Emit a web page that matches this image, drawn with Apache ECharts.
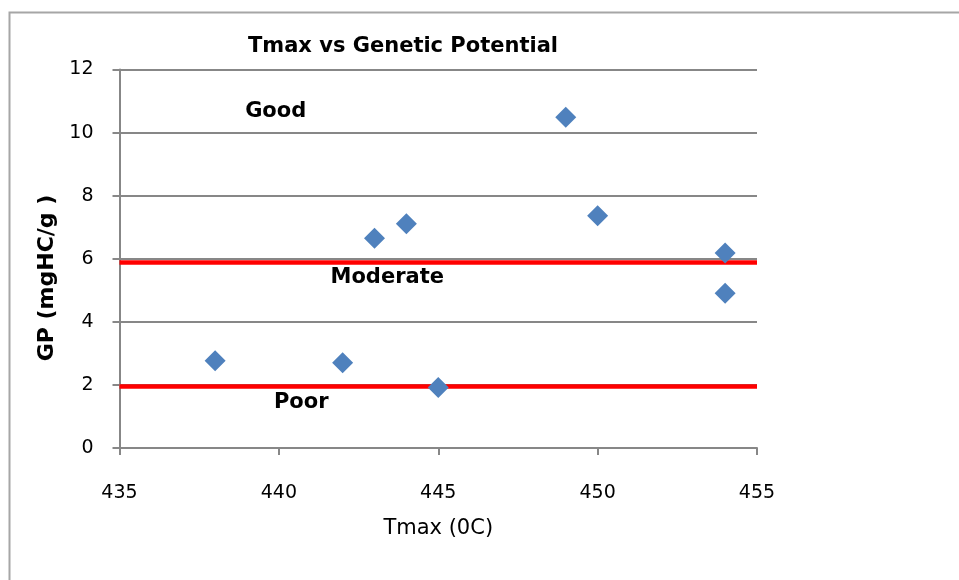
<!DOCTYPE html>
<html>
<head>
<meta charset="utf-8">
<script src="https://cdn.jsdelivr.net/npm/echarts@6/dist/echarts.min.js"></script>
<style>
html,body{margin:0;padding:0;background:#fff;}
#chart{width:959px;height:580px;}
</style>
</head>
<body>
<div id="chart"></div>
<script>
var tmaxValues = [438, 442, 443, 444, 445, 449, 450, 454, 454];
var gpValues = [2.77, 2.70, 6.65, 7.11, 1.92, 10.49, 7.36, 6.18, 4.91];
var thresholdValues = [5.9, 1.95];
var zoneNames = ['Good', 'Moderate', 'Poor'];
var zoneX = [439.9, 443.4, 440.7];
var zoneY = [10.68, 5.39, 1.44];
var xTicks = [435, 440, 445, 450, 455];
var yTicks = [0, 2, 4, 6, 8, 10, 12];

var FONT = '"DejaVu Sans", "Liberation Sans", Arial, sans-serif';
var chart = echarts.init(document.getElementById('chart'), null, {renderer: 'canvas'});

var points = tmaxValues.map(function (x, i) { return [x, gpValues[i]]; });
var zoneData = zoneNames.map(function (n, i) { return {name: n, value: [zoneX[i], zoneY[i]]}; });

var option = {
  backgroundColor: '#fff',
  animation: false,
  title: {
    text: 'Tmax vs Genetic Potential',
    left: 398, top: 31, textAlign: 'center',
    textStyle: {fontFamily: FONT, fontSize: 21, fontWeight: 'bold', color: '#000'}
  },
  graphic: [
    {type: 'rect', left: 7, top: 10, shape: {width: 1000, height: 600},
     style: {fill: 'none', stroke: '#a6a6a6', lineWidth: 2}, silent: true, z: -1},
    {type: 'text', x: 47, y: 278, rotation: Math.PI / 2,
     style: {text: 'GP (mgHC/g )', fontFamily: FONT, fontSize: 22, fontWeight: 'bold', fill: '#000',
             align: 'center', verticalAlign: 'middle'}}
  ],
  grid: {left: 119.5, right: 202, top: 69.5, bottom: 132, containLabel: false},
  xAxis: {
    type: 'value', min: xTicks[0], max: xTicks[xTicks.length - 1], interval: 5,
    name: 'Tmax (0C)', nameLocation: 'middle', nameGap: 70,
    nameTextStyle: {fontFamily: FONT, fontSize: 21, color: '#000'},
    axisLine: {show: true, lineStyle: {color: '#878787', width: 2}},
    axisTick: {show: true, length: 7, lineStyle: {color: '#878787', width: 2}},
    axisLabel: {margin: 36, fontFamily: FONT, fontSize: 19, color: '#000'},
    splitLine: {show: false}
  },
  yAxis: {
    type: 'value', min: yTicks[0], max: yTicks[yTicks.length - 1], interval: 2,
    axisLine: {show: true, lineStyle: {color: '#878787', width: 2}},
    axisTick: {show: true, length: 7, lineStyle: {color: '#878787', width: 2}},
    axisLabel: {margin: 26, fontFamily: FONT, fontSize: 19, color: '#000'},
    splitLine: {show: true, lineStyle: {color: '#878787', width: 2}}
  },
  series: [
    {
      type: 'scatter',
      data: points,
      symbol: 'diamond',
      symbolSize: 21,
      itemStyle: {color: '#4f81bd', opacity: 1},
      z: 5,
      markLine: {
        silent: true, symbol: ['none', 'none'],
        label: {show: false},
        lineStyle: {color: '#ff0000', width: 4.5, type: 'solid', opacity: 1},
        data: thresholdValues.map(function (v) { return {yAxis: v}; })
      }
    },
    {
      type: 'scatter',
      data: zoneData,
      symbolSize: 0,
      silent: true,
      z: 6,
      itemStyle: {opacity: 1},
      label: {
        show: true, position: 'inside',
        formatter: function (p) { return p.name; },
        fontFamily: FONT, fontSize: 21, fontWeight: 'bold', color: '#000'
      }
    }
  ]
};
chart.setOption(option);
</script>
</body>
</html>
